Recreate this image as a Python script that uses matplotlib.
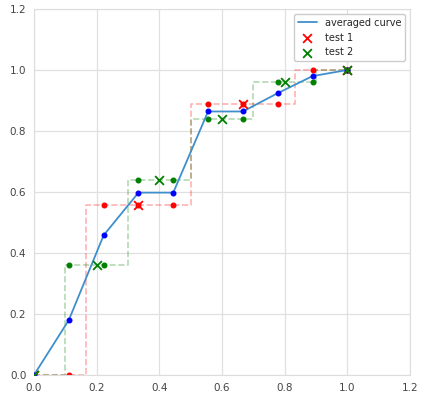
import numpy as np
import matplotlib
matplotlib.use("Agg")
import matplotlib.pyplot as plt
import seaborn as sns

sns.set_style("whitegrid")

# recall grid shared by both tests
recall_grid = [0, 1/9, 2/9, 3/9, 4/9, 5/9, 6/9, 7/9, 8/9, 1.0]

# test 1 (red)
t1_recall = [0, 1/3, 2/3, 1.0]
t1_prec = [0, 0.556, 0.889, 1.0]
t1_interp = [0, 0, 0.556, 0.556, 0.556, 0.889, 0.889, 0.889, 1.0, 1.0]

# test 2 (green)
t2_recall = [0, 0.2, 0.4, 0.6, 0.8, 1.0]
t2_prec = [0, 0.36, 0.64, 0.84, 0.96, 1.0]
t2_interp = [0, 0.36, 0.36, 0.64, 0.64, 0.84, 0.84, 0.96, 0.96, 1.0]

# averaged curve
avg_prec = [0, 0.18, 0.458, 0.598, 0.598, 0.864, 0.864, 0.924, 0.98, 1.0]

fig = plt.figure(figsize=(4.28, 3.99), dpi=100)
ax = fig.add_axes([34/428, 1 - 375/399, 376/428, 366/399])

ax.step(t1_recall, t1_prec, where="mid", color="red", ls="--", alpha=0.3, lw=1.2)
ax.step(t2_recall, t2_prec, where="mid", color="green", ls="--", alpha=0.3, lw=1.2)

ax.plot(recall_grid, t1_interp, "o", color="red", ms=3.3)
ax.plot(recall_grid, t2_interp, "o", color="green", ms=3.3)

ax.plot(recall_grid, avg_prec, color="#3f8fcc", lw=1.3, label="averaged curve", zorder=3)
ax.plot(recall_grid, avg_prec, "o", color="blue", ms=3.3, zorder=4)

ax.scatter(t1_recall, t1_prec, marker="x", color="red", s=40, lw=1.3, label="test 1", zorder=5)
ax.scatter(t2_recall, t2_prec, marker="x", color="green", s=40, lw=1.3, label="test 2", zorder=5)

ax.set_xlim(0, 1.2)
ax.set_ylim(0, 1.2)
ax.grid(color="#e0e0e0", lw=0.9)
ax.tick_params(labelsize=7.5, colors="#444444", pad=2)
for s in ax.spines.values():
    s.set_color("#dddddd")
ax.legend(loc="upper right", fontsize=7, framealpha=1, borderaxespad=0.5)

fig.savefig("out.png", dpi=100)
